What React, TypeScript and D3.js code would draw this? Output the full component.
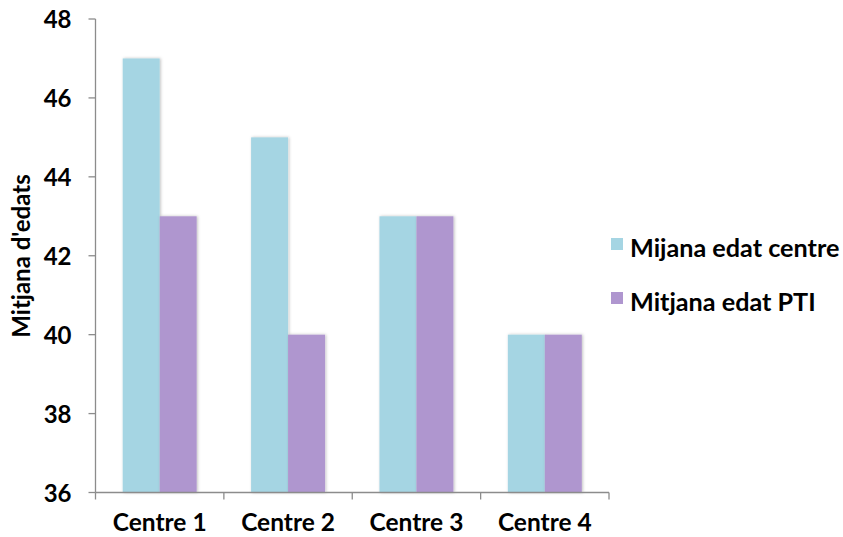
import React from "react";
import * as d3 from "d3";

const categories = ["Centre 1", "Centre 2", "Centre 3", "Centre 4"];
const seriesNames = ["Mijana edat centre", "Mitjana edat PTI"];
const centreValues = [47, 45, 43, 40];
const ptiValues = [43, 40, 43, 40];
const yTicks = [36, 38, 40, 42, 44, 46, 48];
const colors = ["#A5D5E3", "#AF96CF"];

export default function App() {
  const W = 843, H = 537;
  const left = 95.5, right = 609, top = 19, bottom = 492.5;
  const x = d3.scaleBand<string>().domain(categories).range([left, right]).paddingInner(0.424).paddingOuter(0.212);
  const y = d3.scaleLinear().domain([36, 48]).range([bottom, top]);
  const series = [centreValues, ptiValues];
  const bw = x.bandwidth() / 2;
  const font = "Lato, 'Open Sans', sans-serif";
  const step = (right - left) / categories.length;
  return (
    <div style={{ position: "absolute", left: 0, top: 0 }}>
      <svg width={W} height={H} style={{ display: "block" }}>
        <defs>
          <filter id="sh" x="-20%" y="-5%" width="140%" height="110%">
            <feDropShadow dx="1" dy="0" stdDeviation="1.5" floodColor="#000" floodOpacity="0.25" />
          </filter>
        </defs>
        <rect width={W} height={H} fill="#fff" />
        {categories.map((c, i) =>
          series.map((s, j) => (
            <rect key={c + j} x={(x(c) as number) + j * bw} y={y(s[i])} width={bw} height={bottom - y(s[i])} fill={colors[j]} filter="url(#sh)" />
          ))
        )}
        <line x1={left} x2={left} y1={top} y2={bottom} stroke="#8c8c8c" strokeWidth={1.3} />
        <line x1={left} x2={right} y1={bottom} y2={bottom} stroke="#8c8c8c" strokeWidth={1.3} />
        {yTicks.map((t) => (
          <g key={t}>
            <line x1={left - 7} x2={left} y1={y(t)} y2={y(t)} stroke="#8c8c8c" strokeWidth={1.3} />
            <text x={left - 24} y={y(t) + 9} textAnchor="end" fontFamily={font} fontWeight={700} fontSize={24} fill="#000">{t}</text>
          </g>
        ))}
        {d3.range(categories.length + 1).map((i) => (
          <line key={i} x1={left + i * step} x2={left + i * step} y1={bottom} y2={bottom + 7} stroke="#8c8c8c" strokeWidth={1.3} />
        ))}
        {categories.map((c) => (
          <text key={c} x={(x(c) as number) + x.bandwidth() / 2} y={531} textAnchor="middle" fontFamily={font} fontWeight={700} fontSize={24.5} fill="#000">{c}</text>
        ))}
        <text transform={`translate(30,256) rotate(-90)`} textAnchor="middle" fontFamily={font} fontWeight={700} fontSize={24} fill="#000">Mitjana d'edats</text>
        {seriesNames.map((n, j) => (
          <g key={n}>
            <rect x={611} y={238 + j * 54} width={12} height={12} fill={colors[j]} />
            <text x={630} y={257 + j * 54} fontFamily={font} fontWeight={700} fontSize={25.2} fill="#000">{n}</text>
          </g>
        ))}
      </svg>
    </div>
  );
}
